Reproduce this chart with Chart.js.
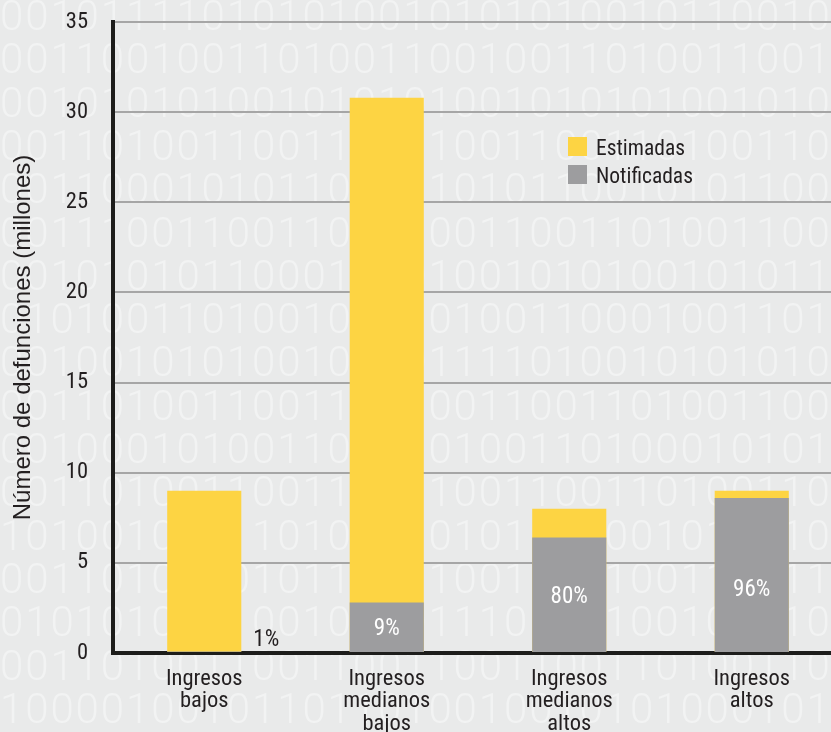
<!DOCTYPE html>
<html>
<head>
<meta charset="utf-8">
<script src="https://cdn.jsdelivr.net/npm/chart.js@4.4.0/dist/chart.umd.min.js"></script>
<style>
html, body { margin: 0; padding: 0; overflow: hidden; background: #e9eaea; }
</style>
</head>
<body>
<canvas id="myChart" width="843" height="732"></canvas>
<script>
// data (millones de defunciones)
const categories = [
  ['Ingresos', 'bajos'],
  ['Ingresos', 'medianos', 'bajos'],
  ['Ingresos', 'medianos', 'altos'],
  ['Ingresos', 'altos']
];
const estimadas = [9.0, 30.8, 8.0, 9.0];
const notificadas = [0.09, 2.8, 6.4, 8.6];
const pctLabels = ['1%', '9%', '80%', '96%'];

const narrow = '"Roboto Condensed", "Liberation Sans", Arial, sans-serif';
const textColor = '#231f20';
const yellow = '#fdd443';
const grey = '#9d9d9f';

// decorative binary texture in the background
const bgRows = [
  '0010111101010100101010100101100101',
  '0011001001101001100100110100110010',
  '0010101010010101010010101010010101',
  '0011010011001100110011001101001100',
  '0011000101011010110101100101011001',
  '0011100110011001100110011010011001',
  '0010101011000101010010101001010110',
  '0101001101001010101001100010011010',
  '0010010101001010011110100101010100',
  '0011010011001101100110011010011001',
  '0010001010011010101001101000101010',
  '0011010011001100110011001101001100',
  '1010010101101011101011110010101100',
  '0011010100101100110011001001100110',
  '0101010011001001011101101001010100',
  '0011010011001100110011001101001100',
  '1000010010110110100100101010001010'
];

const bgPlugin = {
  id: 'bgDigits',
  beforeDraw(chart) {
    const ctx = chart.ctx;
    ctx.save();
    ctx.fillStyle = '#e9eaea';
    ctx.fillRect(0, 0, chart.width, chart.height);
    ctx.fillStyle = '#f2f3f3';
    ctx.font = '300 42px Roboto, "Liberation Sans", sans-serif';
    ctx.textBaseline = 'alphabetic';
    bgRows.forEach((row, r) => {
      for (let i = 0; i < row.length; i++) {
        ctx.fillText(row[i], i * 25.2, 30 + r * 43.3);
      }
    });
    ctx.restore();
  }
};

// percentage labels on the grey bars
const pctPlugin = {
  id: 'pctLabels',
  afterDatasetsDraw(chart) {
    const ctx = chart.ctx;
    const meta = chart.getDatasetMeta(0);
    ctx.save();
    ctx.font = '23px ' + narrow;
    ctx.textBaseline = 'middle';
    meta.data.forEach((bar, i) => {
      const h = bar.base - bar.y;
      if (h > 20) {
        ctx.fillStyle = '#ffffff';
        ctx.textAlign = 'center';
        const y = Math.max((bar.y + bar.base) / 2, bar.base - 64) + 2;
        ctx.fillText(pctLabels[i], bar.x, y);
      } else {
        ctx.fillStyle = textColor;
        ctx.textAlign = 'left';
        ctx.fillText(pctLabels[i], bar.x + bar.width / 2 + 12, bar.base - 12);
      }
    });
    ctx.restore();
  }
};

const legendPlugin = {
  id: 'legendBox',
  afterDraw(chart) {
    const ctx = chart.ctx;
    const items = [chart.data.datasets[1], chart.data.datasets[0]];
    ctx.save();
    ctx.font = '21.5px ' + narrow;
    ctx.textBaseline = 'alphabetic';
    ctx.textAlign = 'left';
    items.forEach((ds, i) => {
      const y = 137 + i * 28;
      ctx.fillStyle = ds.backgroundColor;
      ctx.fillRect(568, y, 19, 19);
      ctx.fillStyle = textColor;
      ctx.fillText(ds.label, 596, y + 18);
    });
    ctx.restore();
  }
};

const data = {
  labels: categories,
  datasets: [
    { label: 'Notificadas', data: notificadas, backgroundColor: grey },
    { label: 'Estimadas', data: estimadas, backgroundColor: yellow }
  ]
};

const config = {
  type: 'bar',
  data: data,
  options: {
    responsive: false,
    animation: false,
    barPercentage: 0.406,
    categoryPercentage: 1.0,
    layout: { padding: { top: 22, left: 0, right: 0, bottom: 0 } },
    plugins: {
      legend: { display: false },
      tooltip: { enabled: false }
    },
    scales: {
      x: {
        stacked: true,
        grid: { display: false },
        border: { display: true, color: '#1d1d1b', width: 4 },
        ticks: {
          color: textColor,
          font: { family: narrow, size: 22.5, lineHeight: 1.0 },
          padding: 7,
          maxRotation: 0,
          autoSkip: false
        },
        afterFit(s) { s.height = 79; s.paddingLeft = 0; s.paddingRight = 0; }
      },
      y: {
        stacked: false,
        min: 0,
        max: 35,
        ticks: {
          stepSize: 5,
          padding: 25,
          color: textColor,
          font: { family: narrow, size: 22.5 }
        },
        grid: { color: '#a6a6a6', lineWidth: 2, drawTicks: false },
        border: { color: '#1d1d1b', width: 4 },
        title: {
          display: true,
          text: 'Número de defunciones (millones)',
          color: textColor,
          font: { family: '"Liberation Sans", Arial, sans-serif', size: 24 },
          padding: { top: 9, bottom: 0 }
        },
        afterFit(s) { s.width = 113; s.paddingTop = 0; s.paddingBottom = 0; }
      }
    }
  },
  plugins: [bgPlugin, pctPlugin, legendPlugin]
};

const myChart = new Chart(document.getElementById('myChart'), config);
</script>
</body>
</html>
